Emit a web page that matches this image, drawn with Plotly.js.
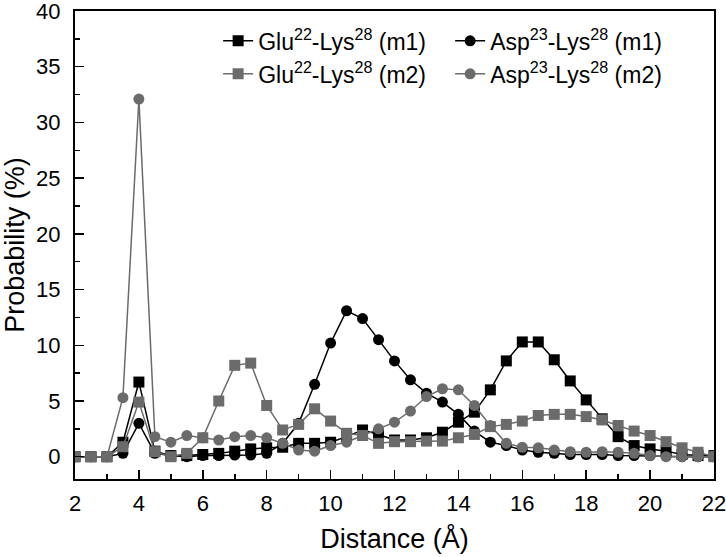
<!DOCTYPE html>
<html>
<head>
<meta charset="utf-8">
<script src="https://cdn.plot.ly/plotly-3.0.1.min.js"></script>
<style>
  body { margin: 0; background: #fff; }
  #plot { width: 726px; height: 557px; }
</style>
</head>
<body>
<div id="plot"></div>
<script>
// distance grid (Å), 0.5 step
var distance = [2, 2.5, 3, 3.5, 4, 4.5, 5, 5.5, 6, 6.5, 7, 7.5, 8, 8.5, 9, 9.5, 10, 10.5, 11, 11.5,
    12, 12.5, 13, 13.5, 14, 14.5, 15, 15.5, 16, 16.5, 17, 17.5, 18, 18.5, 19, 19.5, 20, 20.5, 21, 21.5, 22];

// probability (%)
var gluM1 = [0, 0, 0, 1.3, 6.7, 0.5, 0.1, 0.1, 0.2, 0.3, 0.5, 0.7, 0.8, 0.85, 1.2, 1.2, 1.3, 1.8, 2.4, 2.0,
    1.5, 1.5, 1.7, 2.2, 3.1, 4.0, 6.0, 8.6, 10.3, 10.3, 8.7, 6.8, 5.1, 3.4, 1.8, 1.0, 0.7, 0.5, 0.2, 0.1, 0.1];
var aspM1 = [0, 0, 0, 0.3, 3.0, 0.3, 0.1, 0, 0.1, 0.1, 0.15, 0.15, 0.3, 1.2, 3.0, 6.5, 10.2, 13.1, 12.4, 10.5,
    8.6, 6.9, 5.7, 4.9, 3.8, 2.3, 1.3, 1.0, 0.6, 0.4, 0.3, 0.2, 0.2, 0.2, 0.1, 0.1, 0.1, 0.05, 0, 0, 0];
var gluM2 = [0, 0, 0, 0.9, 4.9, 0.45, 0, 0.3, 1.7, 5.0, 8.2, 8.4, 4.6, 2.4, 2.9, 4.3, 3.2, 2.1, 1.9, 1.2,
    1.35, 1.35, 1.4, 1.4, 1.7, 2.0, 2.7, 2.9, 3.2, 3.7, 3.8, 3.8, 3.6, 3.3, 2.8, 2.3, 1.9, 1.35, 0.8, 0.4, 0];
var aspM2 = [0, 0, 0, 5.3, 32.1, 1.8, 1.3, 1.9, 1.7, 1.5, 1.8, 1.9, 1.7, 1.2, 0.6, 0.5, 1.0, 1.3, 1.9, 2.5,
    3.1, 4.1, 5.4, 6.1, 6.0, 4.6, 2.8, 1.2, 0.85, 0.8, 0.6, 0.45, 0.4, 0.45, 0.4, 0.3, 0.1, 0, 0, 0, 0];

var names = [
    'Glu<sup>22</sup>-Lys<sup>28</sup> (m1)',
    'Asp<sup>23</sup>-Lys<sup>28</sup> (m1)',
    'Glu<sup>22</sup>-Lys<sup>28</sup> (m2)',
    'Asp<sup>23</sup>-Lys<sup>28</sup> (m2)'
];

var black = '#000000';
var grey = '#6b6b6b';
var fam = 'Liberation Sans, Arial, sans-serif';

function makeTrace(y, name, color, symbol) {
    return {
        x: distance,
        y: y,
        name: name,
        type: 'scatter',
        mode: 'lines+markers',
        line: { color: color, width: 1.5 },
        marker: { color: color, symbol: symbol, size: 11 }
    };
}

// m2 traces drawn after m1, so they sit on top
var data = [
    makeTrace(gluM1, names[0], black, 'square'),
    makeTrace(aspM1, names[1], black, 'circle'),
    makeTrace(gluM2, names[2], grey, 'square'),
    makeTrace(aspM2, names[3], grey, 'circle')
];

var tickFont = { family: fam, size: 22, color: '#000' };
var titleFont = { family: fam, size: 27, color: '#000' };

var layout = {
    width: 726,
    height: 557,
    margin: { l: 75, r: 12, t: 11, b: 78, pad: 0 },
    paper_bgcolor: '#fff',
    plot_bgcolor: '#fff',
    font: tickFont,
    showlegend: true,
    legend: {
        orientation: 'h',
        x: 0.224, y: 0.982,
        xanchor: 'left', yanchor: 'top',
        entrywidth: 187,
        font: { family: fam, size: 23, color: '#000' },
        bgcolor: 'rgba(0,0,0,0)',
        tracegroupgap: 0
    },
    xaxis: {
        range: [2, 22],
        dtick: 2,
        tick0: 2,
        ticks: 'inside',
        ticklen: 9,
        tickwidth: 1.5,
        tickcolor: '#000',
        minor: { dtick: 1, ticks: 'inside', ticklen: 5, tickwidth: 1.5, tickcolor: '#000' },
        showgrid: false,
        zeroline: false,
        showline: true,
        linewidth: 2,
        linecolor: '#000',
        mirror: true,
        tickfont: tickFont,
        ticklabelstandoff: 4,
        ticklabeloverflow: 'allow',
        title: { text: 'Distance (Å)', font: titleFont, standoff: 14 }
    },
    yaxis: {
        range: [-2, 40],
        dtick: 5,
        tick0: 0,
        ticks: 'inside',
        ticklen: 9,
        tickwidth: 1.5,
        tickcolor: '#000',
        minor: { dtick: 2.5, ticks: 'inside', ticklen: 5, tickwidth: 1.5, tickcolor: '#000' },
        showgrid: false,
        zeroline: false,
        showline: true,
        linewidth: 2,
        linecolor: '#000',
        mirror: true,
        tickfont: tickFont,
        ticklabelstandoff: 8,
        ticklabeloverflow: 'allow',
        title: { text: 'Probability (%)', font: titleFont, standoff: 12 }
    }
};

Plotly.newPlot('plot', data, layout, { displayModeBar: false, staticPlot: true });
</script>
</body>
</html>
